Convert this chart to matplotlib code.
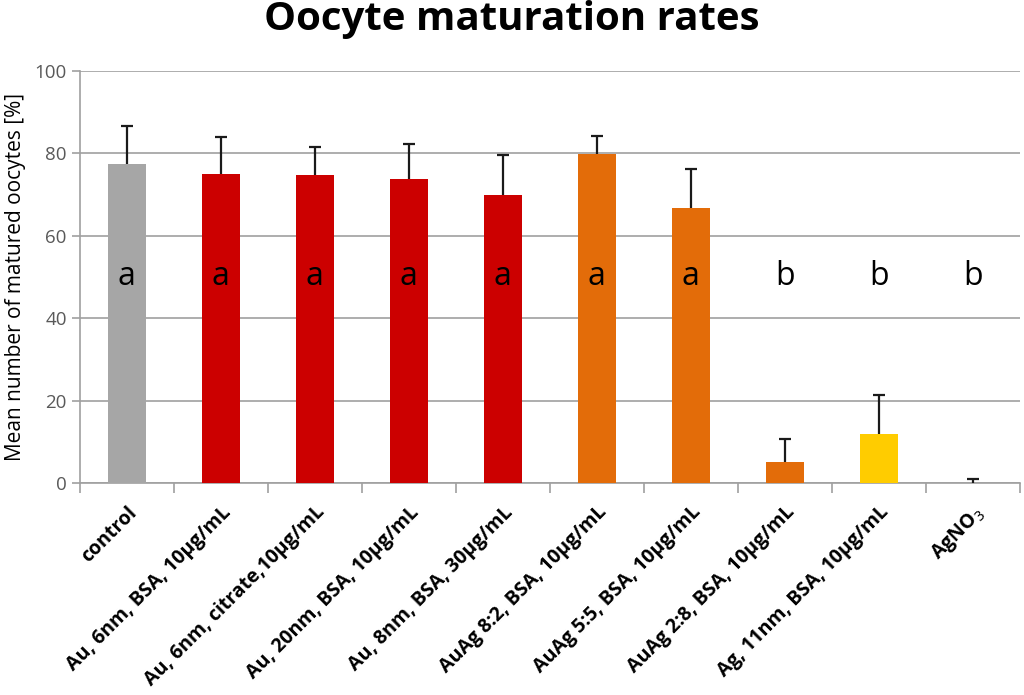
import numpy as np
import matplotlib.pyplot as plt

categories = ['control', 'Au, 6nm, BSA, 10µg/mL', 'Au, 6nm, citrate,10µg/mL',
              'Au, 20nm, BSA, 10µg/mL', 'Au, 8nm, BSA, 30µg/mL',
              'AuAg 8:2, BSA, 10µg/mL', 'AuAg 5:5, BSA, 10µg/mL',
              'AuAg 2:8, BSA, 10µg/mL', 'Ag, 11nm, BSA, 10µg/mL', 'AgNO$_3$']
means = [77.4, 75.0, 74.8, 73.8, 70.0, 79.8, 66.8, 5.0, 12.0, 0.0]
errors = [9.3, 9.0, 6.8, 8.5, 9.7, 4.5, 9.4, 5.7, 9.4, 1.0]
letters = ['a', 'a', 'a', 'a', 'a', 'a', 'a', 'b', 'b', 'b']
colors = ['#A6A6A6', '#CC0000', '#CC0000', '#CC0000', '#CC0000',
          '#E36C09', '#E36C09', '#E36C09', '#FFCC00', '#E36C09']

plt.rcParams['font.family'] = ['Open Sans', 'DejaVu Sans']

fig = plt.figure(figsize=(10.24, 6.95), dpi=100)
ax = fig.add_axes([0.078, 0.305, 0.918, 0.593])

x = np.arange(len(categories))
ax.bar(x, means, width=0.4, color=colors, zorder=3)
eb = ax.errorbar(x, means, yerr=[np.zeros(len(errors)), errors], fmt='none',
                 ecolor='#1a1a1a', elinewidth=1.6, capsize=4, capthick=1.6, zorder=4)
# only the upper cap, like in excel
eb[1][0].set_visible(False)

for i, l in enumerate(letters):
    ax.text(x[i], 50, l, ha='center', va='center', fontsize=23, color='black', zorder=5)

ax.set_xlim(-0.5, len(categories) - 0.5)
ax.set_ylim(0, 100)
ax.set_yticks([0, 20, 40, 60, 80, 100])
ax.yaxis.grid(True, color='#A0A0A0', linewidth=1.2, zorder=0)
ax.tick_params(axis='y', colors='#A0A0A0', labelcolor='#595959', labelsize=13.5,
               length=6, width=1.2)

ax.set_xticks(np.arange(len(categories) + 1) - 0.5, minor=False)
ax.set_xticklabels([])
ax.tick_params(axis='x', which='major', colors='#A0A0A0', length=7, width=1.2)
ax.set_xticks(x, minor=True)
ax.set_xticklabels(categories, minor=True, rotation=45, ha='right',
                   rotation_mode='anchor', fontsize=14, fontweight='bold')
ax.tick_params(axis='x', which='minor', length=0, pad=14, labelcolor='black')

for s in ['top', 'right']:
    ax.spines[s].set_visible(False)
for s in ['left', 'bottom']:
    ax.spines[s].set_color('#A0A0A0')
    ax.spines[s].set_linewidth(1.2)

ax.set_ylabel('Mean number of matured oocytes [%]', fontsize=15, labelpad=6)
fig.suptitle('Oocyte maturation rates', fontsize=29, fontweight='bold', y=1.0)

plt.savefig('out.png', dpi=100)
